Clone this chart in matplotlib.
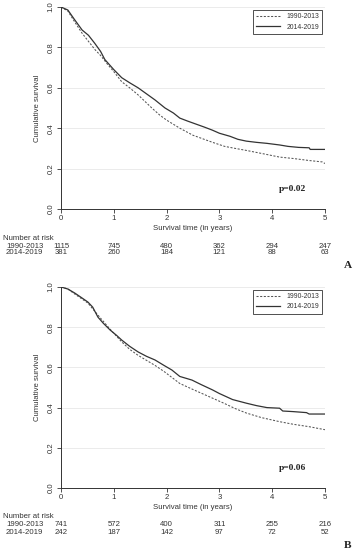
import matplotlib
matplotlib.use("Agg")
import matplotlib.pyplot as plt
from matplotlib.transforms import blended_transform_factory

# ---------------- data ----------------
groups = ["1990-2013", "2014-2019"]
xticks = [0, 1, 2, 3, 4, 5]
yticks = [0.0, 0.2, 0.4, 0.6, 0.8, 1.0]

# Panel A
a_old_t = [0, 0.13, 0.25, 0.40, 0.52, 0.64, 0.75, 0.87, 1.0, 1.15, 1.3, 1.46, 1.6, 1.72, 1.87,
           2.0, 2.25, 2.5, 2.87, 3.1, 3.3, 3.51, 3.8, 4.14, 4.4, 4.7, 4.95, 5.0]
a_old_s = [1.0, 0.98, 0.93, 0.87, 0.83, 0.79, 0.76, 0.72, 0.68, 0.63, 0.60, 0.565, 0.53, 0.50, 0.465,
           0.44, 0.40, 0.365, 0.33, 0.31, 0.30, 0.29, 0.275, 0.257, 0.25, 0.24, 0.233, 0.225]
a_new_t = [0, 0.13, 0.25, 0.40, 0.52, 0.64, 0.75, 0.83, 1.0, 1.15, 1.3, 1.46, 1.62, 1.78, 1.97,
           2.13, 2.25, 2.4, 2.56, 2.72, 2.87, 3.0, 3.2, 3.35, 3.51, 3.7, 3.9, 4.14, 4.3, 4.5, 4.7,
           4.72, 5.0]
a_new_s = [1.0, 0.985, 0.94, 0.886, 0.86, 0.82, 0.78, 0.74, 0.69, 0.65, 0.625, 0.60, 0.57, 0.54, 0.50,
           0.475, 0.45, 0.435, 0.42, 0.405, 0.39, 0.375, 0.36, 0.345, 0.336, 0.33, 0.325, 0.317, 0.31,
           0.305, 0.303, 0.295, 0.295]
a_risk_old = [1115, 745, 480, 362, 294, 247]
a_risk_new = [381, 260, 184, 121, 88, 63]
a_p = "p=0.02"

# Panel B
b_old_t = [0, 0.13, 0.26, 0.4, 0.51, 0.7, 0.93, 1.15, 1.3, 1.46, 1.62, 1.78, 1.95, 2.1, 2.25,
           2.5, 2.87, 3.1, 3.3, 3.51, 3.8, 4.14, 4.4, 4.7, 5.0]
b_old_s = [1.0, 0.99, 0.965, 0.94, 0.92, 0.86, 0.79, 0.727, 0.69, 0.66, 0.635, 0.61, 0.58, 0.55, 0.52,
           0.49, 0.447, 0.42, 0.395, 0.373, 0.35, 0.33, 0.317, 0.305, 0.29]
b_new_t = [0, 0.13, 0.26, 0.4, 0.51, 0.6, 0.7, 0.8, 0.93, 1.05, 1.15, 1.3, 1.46, 1.62, 1.78, 1.95,
           2.1, 2.25, 2.48, 2.65, 2.87, 3.0, 3.25, 3.51, 3.7, 3.9, 4.14, 4.2, 4.4, 4.65, 4.7, 5.0]
b_new_s = [1.0, 0.99, 0.97, 0.945, 0.925, 0.90, 0.85, 0.82, 0.786, 0.76, 0.736, 0.705, 0.677, 0.655,
           0.637, 0.61, 0.587, 0.555, 0.537, 0.515, 0.488, 0.47, 0.44, 0.422, 0.41, 0.40, 0.397, 0.383,
           0.38, 0.375, 0.368, 0.368]
b_risk_old = [741, 572, 400, 311, 255, 216]
b_risk_new = [242, 187, 142, 97, 72, 52]
b_p = "p=0.06"

# ---------------- figure ----------------
W, H = 355, 550
fig = plt.figure(figsize=(W / 100, H / 100), dpi=100)
fig.patch.set_facecolor("white")
sans = ["Liberation Sans", "DejaVu Sans"]
serif = ["Liberation Serif", "DejaVu Serif"]
fs = 5.6


def fy(py):
    return 1 - py / H


def panel(top_px, bot_px, old_t, old_s, new_t, new_s, r_old, r_new, ptxt, letter, letter_py):
    ax = fig.add_axes([61 / W, fy(bot_px), 264 / W, (bot_px - top_px) / H])
    ax.set_xlim(0, 5)
    ax.set_ylim(0, 1)
    for y in yticks[1:]:
        ax.axhline(y, color="#e8e8e8", lw=0.6, zorder=0)
    ax.plot(old_t, old_s, color="#555555", lw=0.75,
            linestyle=(0, (2.0, 1.5)), label=groups[0])
    ax.plot(new_t, new_s, color="#333333", lw=0.9, label=groups[1])
    for s in ["top", "right"]:
        ax.spines[s].set_visible(False)
    for s in ["left", "bottom"]:
        ax.spines[s].set_color("#333333")
        ax.spines[s].set_linewidth(0.7)
    ax.set_xticks(xticks)
    ax.set_yticks(yticks)
    ax.set_yticklabels([f"{v:.1f}" for v in yticks], rotation=90, va="center",
                       family=sans, fontsize=fs, color="#333333")
    ax.set_xticklabels([str(v) for v in xticks], family=sans, fontsize=fs, color="#333333")
    ax.tick_params(length=3, width=0.6, color="#333333", pad=1.5)
    ax.set_xlabel("Survival time (in years)", family=sans, fontsize=5.6,
                  color="#333333", labelpad=2)
    ax.set_ylabel("Cumulative survival", family=sans, fontsize=5.6,
                  color="#333333", labelpad=5)
    leg = ax.legend(loc="upper right", bbox_to_anchor=(0.995, 0.99), fancybox=False,
                    framealpha=1, edgecolor="#333333", prop={"family": sans, "size": 4.9},
                    handlelength=3.6, borderpad=0.45, labelspacing=0.45, handletextpad=0.9,
                    borderaxespad=0.2)
    leg.get_frame().set_linewidth(0.6)
    for t in leg.get_texts():
        t.set_color("#333333")
    ax.text(4.39, 0.10, ptxt, family=serif, fontweight="bold", fontsize=fs + 1.2,
            ha="center", va="center", color="#222222")
    # risk table
    tr = blended_transform_factory(ax.transData, fig.transFigure)
    fig.text(3 / W, fy(bot_px + 29), "Number at risk", family=sans, fontsize=fs,
             ha="left", va="center", color="#333333")
    fig.text(24.5 / W, fy(bot_px + 37), groups[0], family=sans, fontsize=fs,
             ha="center", va="center", color="#333333")
    fig.text(24.5 / W, fy(bot_px + 44), groups[1], family=sans, fontsize=fs,
             ha="center", va="center", color="#333333")
    for x, a, b in zip(xticks, r_old, r_new):
        ax.text(x, fy(bot_px + 37), str(a), transform=tr, family=sans, fontsize=fs,
                ha="center", va="center", color="#333333")
        ax.text(x, fy(bot_px + 44), str(b), transform=tr, family=sans, fontsize=fs,
                ha="center", va="center", color="#333333")
    fig.text(348 / W, fy(letter_py), letter, family=serif, fontweight="bold",
             fontsize=fs + 2.5, ha="center", va="center", color="#222222")
    return ax


panel(7, 209, a_old_t, a_old_s, a_new_t, a_new_s, a_risk_old, a_risk_new, a_p, "A", 265)
panel(287, 488, b_old_t, b_old_s, b_new_t, b_new_s, b_risk_old, b_risk_new, b_p, "B", 545.5)

fig.savefig("out.png", dpi=100, facecolor="white")
